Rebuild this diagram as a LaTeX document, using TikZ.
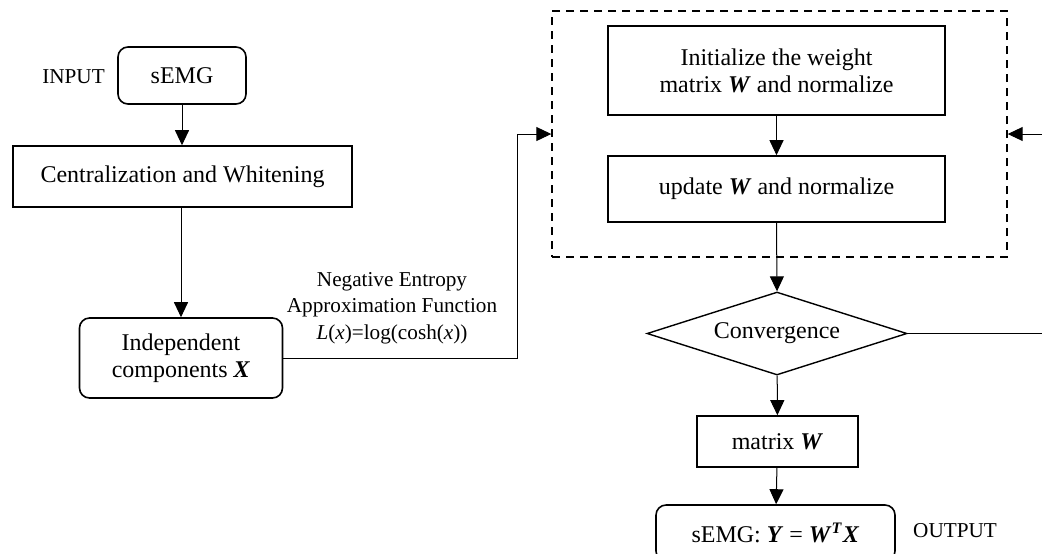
\documentclass[tikz,border=0pt]{standalone}
\usepackage{fontspec}
\setmainfont{Liberation Serif}
\usepackage{tikz}
\usetikzlibrary{shapes.geometric, arrows.meta, positioning, calc}
\newcommand{\bi}[1]{\textbf{\textit{#1}}}
\tikzset{block/.style={rectangle,draw,line width=0.8pt,align=center,inner sep=2pt,font=\fontsize{12}{13.6}\selectfont},
         rblock/.style={block,rounded corners=5pt},
         decision/.style={diamond,draw,line width=0.7pt,align=center,inner sep=0pt,aspect=3.1,font=\fontsize{12}{13.6}\selectfont},
         loopbox/.style={rectangle,draw,dashed,line width=0.7pt,dash pattern=on 4pt off 3pt},
         tag/.style={align=center,inner sep=0pt,font=\fontsize{10.6}{13.3}\selectfont},
         arrow/.style={-{Triangle[length=7.5pt,width=7pt]},line width=0.5pt}}
\begin{document}
\begin{tikzpicture}[x=0.5pt,y=-0.5pt]
    \useasboundingbox (0,0) rectangle (1042,553);
    % left column
    \node (insig) [rblock, minimum width=64pt, minimum height=28.5pt] at (182,75.5) {sEMG};
    \node (intag) [tag] at (73.5,77) {INPUT};
    \node (cw) [block, minimum width=169.5pt, minimum height=30.5pt] at (182.5,176.5) {Centralization and Whitening};
    \node (ic) [rblock, minimum width=101.5pt, minimum height=40pt] at (181,358) {Independent\\components \bi{X}};
    \node (nef) [tag] at (392,308) {Negative Entropy\\Approximation Function\\\textit{L}(\textit{x})=log(cosh(\textit{x}))};
    % iteration loop
    \node (loop) [loopbox, minimum width=227.5pt, minimum height=123pt] at (779.5,134) {};
    \node (init) [block, minimum width=168.5pt, minimum height=44.5pt] at (776.5,70.5) {Initialize the weight\\matrix \bi{W} and normalize};
    \node (upd) [block, minimum width=168.5pt, minimum height=33pt] at (776.5,189) {update \bi{W} and normalize};
    \node (conv) [decision, minimum width=130pt, minimum height=41.5pt] at (777,333.5) {Convergence};
    \node (mw) [block, minimum width=80.5pt, minimum height=25.5pt] at (777.5,441.5) {matrix \bi{W}};
    \node (outsig) [rblock, minimum width=119.5pt, minimum height=28pt] at (775.5,533) {sEMG: \bi{Y} = \bi{W}\textsuperscript{\bi{T}}\bi{X}};
    \node (outtag) [tag] at (955,531) {OUTPUT};
    \coordinate (bend) at (517,358);
    \coordinate (rfar) at (1050,333.5);
    % connectors
    \draw[arrow] (insig) -- (insig |- cw.north);
    \draw[arrow] (cw.south -| ic.north) -- (ic.north);
    \draw[arrow] (ic.east) -- (bend) |- (loop.west);
    \draw[arrow] (init) -- (upd);
    \draw[arrow] (upd.south) -- (conv.north);
    \draw[arrow] (conv) -- (mw);
    \draw[arrow] (mw) -- (outsig);
    \draw[arrow] (conv.east) -- (rfar) |- (loop.east);
\end{tikzpicture}
\end{document}
